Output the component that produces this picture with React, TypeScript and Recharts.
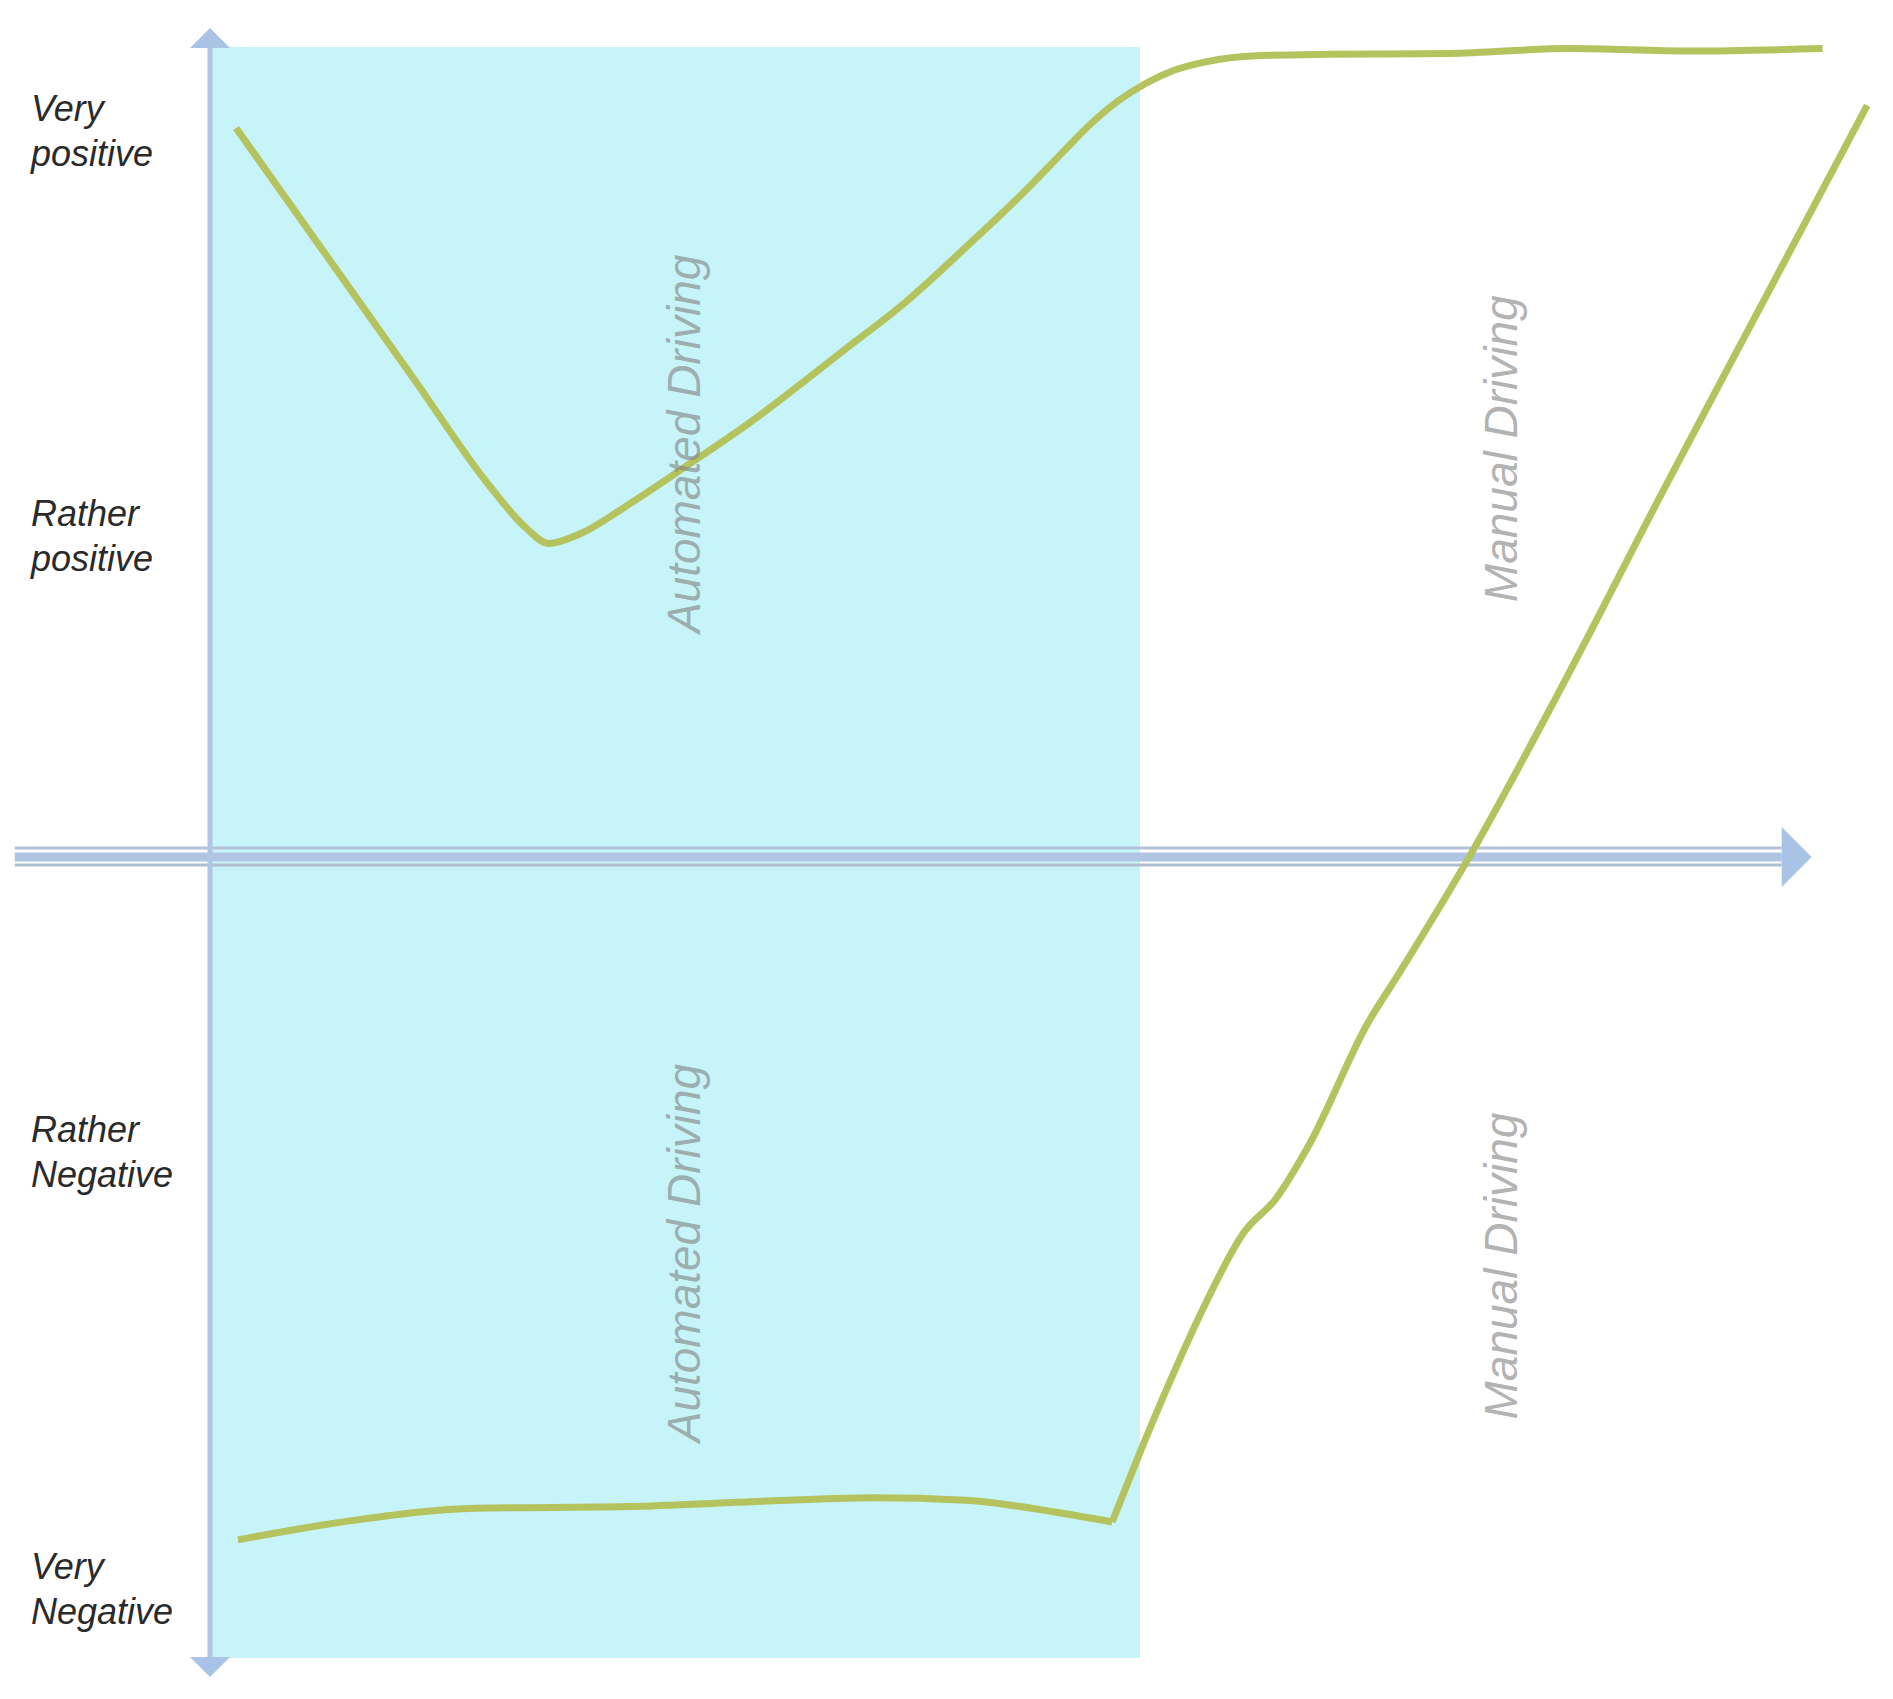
import React from "react";
import {
  ComposedChart,
  Line,
  XAxis,
  YAxis,
  ReferenceArea,
  ReferenceLine,
  ReferenceDot,
} from "recharts";

// feeling: -100 (very negative) .. 100 (very positive); ride time 0 .. 90, take-over at 50
const levelValues = [90, 40, -36, -90];
const levelLabels = [
  ["Very", "positive"],
  ["Rather", "positive"],
  ["Rather", "Negative"],
  ["Very", "Negative"],
];

const takeOverTime = 50;

// upper curve
const upperTime = [1.4, 6, 11, 15, 17, 18.2, 19.9, 22.5, 25.7, 29.0, 34.1, 37.4, 40.6, 43.9, 45.8, 47.3, 48.8, 50.3, 51.8, 53.6, 56.0, 60.1, 66.6, 73.1, 79.6, 86.7];
const upperFeeling = [90, 75.1, 58.9, 45.9, 40.6, 38.7, 39.9, 43.5, 48.4, 53.6, 62.6, 68.5, 75.2, 82.4, 86.9, 90.4, 93.3, 95.5, 97.1, 98.2, 98.9, 99.1, 99.2, 99.8, 99.5, 99.8];

// lower curve, automated part
const lowerAutoTime = [1.5, 7.7, 14.3, 22.5, 29.1, 35.7, 40.6, 45.5, 48.5];
const lowerAutoFeeling = [-84.3, -81.9, -80.4, -80.2, -79.6, -79.1, -79.4, -80.9, -82.1];

// lower curve, manual part
const lowerManualTime = [48.5, 50.0, 51.6, 53.3, 55.6, 57.3, 59.1, 62.2, 64.0, 67.7, 72.6, 78.1, 83.7, 89.1];
const lowerManualFeeling = [-82.1, -73.5, -64.8, -56.2, -46.3, -42.2, -35.5, -20.7, -14.1, 0, 20.7, 45.1, 69.4, 92.8];

const phaseText = ["Automated Driving", "Automated Driving", "Manual Driving", "Manual Driving"];
const phaseTime = [25.5, 25.5, 69.4, 69.4];
const phaseFeeling = [51, -48.9, 50.4, -50.5];

const FONT = '"Liberation Sans", Arial, sans-serif';
const AXIS = "#a9c3e6";
const CURVE = "#b4c35e";

const toPoints = (t: number[], v: number[]) => t.map((x, i) => ({ t: x, v: v[i] }));

const LevelTick = (props: any) => {
  const { x, y, payload } = props;
  const lines = levelLabels[levelValues.indexOf(payload.value)] || [];
  const lx = x - 179;
  return (
    <text x={lx} y={y - 7} fill="#2a2a2a" fontSize={36} fontStyle="italic" fontFamily={FONT}>
      <tspan x={lx} dy={0}>{lines[0]}</tspan>
      <tspan x={lx} dy={45}>{lines[1]}</tspan>
    </text>
  );
};

const UpArrow = (p: any) => (
  <polygon points={`${p.cx - 20},${p.cy + 1} ${p.cx + 20},${p.cy + 1} ${p.cx},${p.cy - 19}`} fill={AXIS} />
);
const DownArrow = (p: any) => (
  <polygon points={`${p.cx - 20},${p.cy - 1} ${p.cx + 20},${p.cy - 1} ${p.cx},${p.cy + 19}`} fill={AXIS} />
);
const RightArrow = (p: any) => (
  <polygon points={`${p.cx},${p.cy - 30} ${p.cx},${p.cy + 30} ${p.cx + 30},${p.cy}`} fill={AXIS} />
);

// time axis drawn as a double line
const DoubleAxis = (p: any) => (
  <g>
    <line x1={p.x1} x2={p.x2} y1={p.y1 - 9} y2={p.y2 - 9} stroke="#b3c2d8" strokeWidth={3} />
    <line x1={p.x1} x2={p.x2} y1={p.y1} y2={p.y2} stroke="#b0c4e3" strokeWidth={9} />
    <line x1={p.x1} x2={p.x2} y1={p.y1 + 8} y2={p.y2 + 8} stroke="#afbdce" strokeWidth={3} />
  </g>
);

const phaseLabel = (text: string) => (p: any) => (
  <text
    x={p.cx}
    y={p.cy}
    transform={`rotate(-90 ${p.cx} ${p.cy})`}
    textAnchor="middle"
    dominantBaseline="central"
    fontSize={46}
    fontStyle="italic"
    fontFamily={FONT}
    fill="#808080"
    fillOpacity={0.62}
  >
    {text}
  </text>
);

export default function App() {
  return (
    <div style={{ position: "absolute", left: 0, top: 0, background: "#fff" }}>
      <ComposedChart
        width={1893}
        height={1699}
        margin={{ top: 47, right: 9, bottom: 32, left: 0 }}
      >
        <XAxis type="number" dataKey="t" domain={[0, 90]} hide />
        <YAxis
          type="number"
          domain={[-100, 100]}
          width={210}
          ticks={levelValues}
          tick={<LevelTick />}
          tickLine={false}
          tickSize={0}
          tickMargin={0}
          axisLine={{ stroke: "#aec6e4", strokeWidth: 5 }}
        />
        <ReferenceArea
          x1={0}
          x2={takeOverTime}
          y1={-98.9}
          y2={100}
          fill="#c6f4f8"
          fillOpacity={1}
          stroke="none"
          ifOverflow="visible"
        />
        <ReferenceLine
          segment={[{ x: -10.5, y: 0 }, { x: 84.5, y: 0 }]}
          ifOverflow="visible"
          shape={DoubleAxis}
        />
        <Line
          data={toPoints(upperTime, upperFeeling)}
          dataKey="v"
          type="monotone"
          stroke={CURVE}
          strokeWidth={7}
          dot={false}
          isAnimationActive={false}
        />
        <Line
          data={toPoints(lowerAutoTime, lowerAutoFeeling)}
          dataKey="v"
          type="monotone"
          stroke={CURVE}
          strokeWidth={7}
          dot={false}
          isAnimationActive={false}
        />
        <Line
          data={toPoints(lowerManualTime, lowerManualFeeling)}
          dataKey="v"
          type="monotone"
          stroke={CURVE}
          strokeWidth={7}
          dot={false}
          isAnimationActive={false}
        />
        {phaseText.map((txt, i) => (
          <ReferenceDot
            key={`phase-${i}`}
            x={phaseTime[i]}
            y={phaseFeeling[i]}
            r={0}
            ifOverflow="visible"
            shape={phaseLabel(txt)}
          />
        ))}
        <ReferenceDot x={0} y={100} r={0} ifOverflow="visible" shape={UpArrow} />
        <ReferenceDot x={0} y={-98.9} r={0} ifOverflow="visible" shape={DownArrow} />
        <ReferenceDot x={84.5} y={0} r={0} ifOverflow="visible" shape={RightArrow} />
      </ComposedChart>
    </div>
  );
}
